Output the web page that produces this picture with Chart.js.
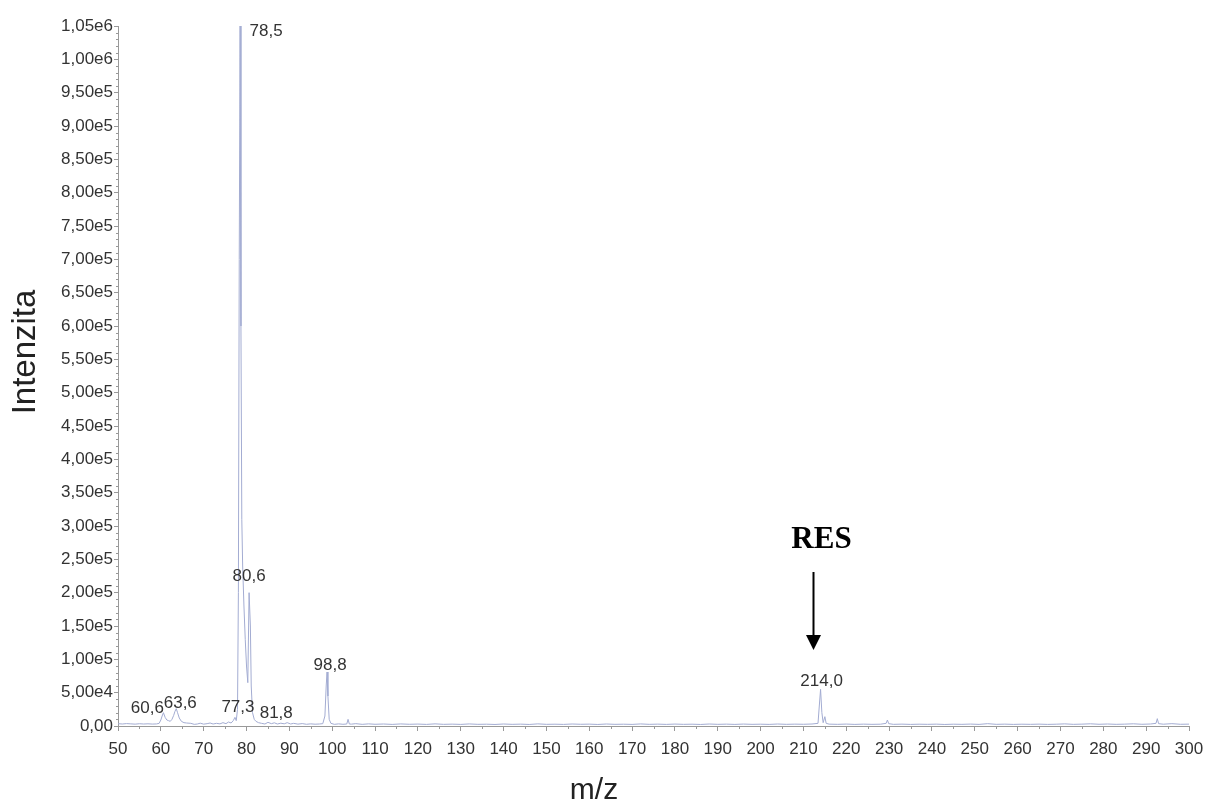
<!DOCTYPE html>
<html>
<head>
<meta charset="utf-8">
<script src="https://cdn.jsdelivr.net/npm/chart.js@4.4.0/dist/chart.umd.min.js"></script>
<style>
  html, body { margin: 0; padding: 0; background: #fff; }
</style>
</head>
<body>
<canvas id="spectrum" width="1206" height="804"></canvas>
<script>
// ---- spectrum data (m/z, intensity) ----
const mzValues = [
  50, 51, 52, 53, 54, 55, 56, 57, 58, 59, 59.6, 60.0, 60.3, 60.6, 61.0, 61.4, 61.8, 62.2, 62.6,
  63.0, 63.3, 63.6, 63.9, 64.3, 64.8, 65.4, 66.0, 67.0, 67.8, 68.5, 69.2, 70.0, 70.8, 71.5,
  72.2, 73.0, 73.8, 74.5, 75.2, 75.8, 76.4, 76.9, 77.3, 77.6, 77.9, 78.1, 78.3, 78.5, 78.7,
  78.9, 79.1, 79.4, 79.7, 80.0, 80.3, 80.6, 80.9, 81.1, 81.4, 81.8, 82.2, 82.8, 83.5, 84.3,
  85.0, 85.8, 86.5, 87.2, 88.0, 88.8, 89.5, 90.3, 91.0, 92.0, 93.0, 94.0, 95.0, 96.0, 97.0,
  97.8, 98.3, 98.6, 98.8, 99.0, 99.3, 99.7, 100.5, 101.5, 102.5, 103.4, 103.7, 104.0, 104.5,
  105.5, 107, 108.5, 110, 112, 114, 116, 118, 120, 122, 124, 126, 128, 130, 132, 134, 136,
  138, 140, 142, 144, 146, 148, 150, 152, 154, 156, 158, 160, 162, 164, 166, 168, 170, 172,
  174, 176, 178, 180, 182, 184, 186, 188, 190, 192, 194, 196, 198, 200, 202, 204, 206, 208,
  210, 212, 213.4, 213.7, 214.0, 214.3, 214.6, 215.0, 215.3, 216, 218, 220, 222, 224, 226,
  228, 229.3, 229.6, 229.9, 231, 233, 235, 237, 239, 241, 243, 245, 247, 249, 251, 253, 255,
  257, 259, 261, 263, 265, 267, 269, 271, 273, 275, 277, 279, 281, 283, 285, 287, 289, 291,
  292.3, 292.6, 292.9, 294, 296, 298, 300
];
const intensityValues = [
  3500, 3000, 3600, 3200, 2800, 3400, 3000, 3300, 2900, 3100, 4000, 9000, 15000, 20000, 13000, 9000, 8000, 7000, 10000,
  16000, 22000, 26000, 20000, 12000, 7000, 5000, 4500, 4000, 2500, 3000, 4200, 2800, 3500, 4500,
  3000, 4000, 3200, 5000, 3500, 6000, 4500, 8000, 13000, 8000, 25000, 200000, 700000, 1050000, 600000,
  310000, 240000, 180000, 130000, 90000, 65000, 200000, 150000, 60000, 20000, 10000, 7000, 5000, 4000, 3000,
  5500, 3500, 4800, 3000, 4200, 3300, 5000, 3000, 4000, 2800, 3600, 2600, 3200, 2700, 3000,
  3500, 15000, 60000, 81000, 45000, 10000, 4000, 2500, 3200, 2600, 3000, 10000, 3000, 2800,
  3500, 2500, 3200, 2600, 3000, 2400, 3100, 2600, 2900, 2400, 3200, 2500, 2800, 2400, 3100, 2500, 2700,
  2300, 3000, 2500, 2800, 2300, 3200, 2500, 2700, 2400, 3000, 2600, 2800, 2300, 3000, 2500, 2700, 2400, 3100,
  2500, 2800, 2400, 2900, 2500, 2700, 2300, 3000, 2500, 2800, 2400, 2900, 2500, 2700, 2400, 3000, 2500, 2800,
  2600, 3000, 4000, 30000, 55000, 20000, 5000, 14000, 4000, 2800, 2500, 2900, 2400, 2800, 2500,
  2700, 4000, 9000, 3500, 2500, 2800, 2400, 2700, 2500, 2800, 2300, 2700, 2500, 2900, 2400, 3500, 2500,
  2800, 2400, 2700, 2500, 2800, 2400, 2700, 3200, 2500, 2800, 3300, 2600, 3000, 2500, 2800, 3300, 2600, 3000,
  4000, 11000, 3500, 2700, 3500, 2600, 2800
];

// ---- labelled peaks ----
const peakMz = [60.6, 63.6, 77.3, 78.5, 80.6, 81.8, 98.8, 214.0];
// label shift from the peak top, in px
const peakLabelShift = [[-16, -4], [4, -5], [3, -10], [26, 5], [0, -16], [22, -6], [3, -7], [1, -8]];

// ---- axes ----
const xMin = 50, xMax = 300, xStep = 10;
const yMin = 0, yMax = 1050000, yStep = 50000;
const resMz = 212.2;

const formatIntensity = (v) => {
  if (v === 0) return "0,00";
  const exp = Math.floor(Math.log10(v) + 1e-9);
  const mant = v / Math.pow(10, exp);
  return mant.toFixed(2).replace(".", ",") + "e" + exp;
};

const points = mzValues.map((x, i) => ({ x, y: intensityValues[i] }));

const decorations = {
  id: "decorations",
  afterDraw(chart) {
    const { ctx, chartArea, scales } = chart;
    const xs = scales.x, ys = scales.y;
    ctx.save();

    // minor ticks
    ctx.strokeStyle = "#999";
    ctx.lineWidth = 1;
    ctx.beginPath();
    for (let v = xMin + 5; v < xMax; v += 10) {
      const px = Math.round(xs.getPixelForValue(v)) + 0.5;
      ctx.moveTo(px, chartArea.bottom);
      ctx.lineTo(px, chartArea.bottom + 3);
    }
    for (let v = 10000; v < yMax; v += 10000) {
      if (v % yStep === 0) continue;
      const py = Math.round(ys.getPixelForValue(v)) + 0.5;
      ctx.moveTo(chartArea.left - 2, py);
      ctx.lineTo(chartArea.left, py);
    }
    ctx.stroke();

    // peak labels
    ctx.fillStyle = "#333";
    ctx.font = "17px 'Liberation Sans', Arial, sans-serif";
    ctx.textAlign = "center";
    ctx.textBaseline = "middle";
    peakMz.forEach((mz, i) => {
      const idx = mzValues.indexOf(mz);
      const px = xs.getPixelForValue(mz);
      const py = ys.getPixelForValue(intensityValues[idx]);
      const [dx, dy] = peakLabelShift[i];
      ctx.fillText(mz.toFixed(1).replace(".", ","), px + dx, py + dy);
    });

    // axis titles
    ctx.fillStyle = "#222";
    ctx.font = "30px 'Liberation Sans', Arial, sans-serif";
    ctx.textBaseline = "alphabetic";
    ctx.fillText("m/z", 594, 799);
    ctx.save();
    ctx.translate(35, 352);
    ctx.rotate(-Math.PI / 2);
    ctx.font = "33px 'Liberation Sans', Arial, sans-serif";
    ctx.fillText("Intenzita", 0, 0);
    ctx.restore();

    // RES marker
    const ax = Math.round(xs.getPixelForValue(resMz)) + 0.5;
    ctx.fillStyle = "#000";
    ctx.font = "bold 31px 'Liberation Serif', 'Times New Roman', serif";
    ctx.textBaseline = "middle";
    ctx.fillText("RES", ax + 8, 540);
    ctx.strokeStyle = "#000";
    ctx.lineWidth = 2;
    ctx.beginPath();
    ctx.moveTo(ax, 572);
    ctx.lineTo(ax, 636);
    ctx.stroke();
    ctx.beginPath();
    ctx.moveTo(ax - 7.5, 635);
    ctx.lineTo(ax + 7.5, 635);
    ctx.lineTo(ax, 650);
    ctx.closePath();
    ctx.fill();

    ctx.restore();
  }
};

new Chart(document.getElementById("spectrum"), {
  type: "line",
  data: {
    datasets: [{
      data: points,
      borderColor: "#a3acd2",
      borderWidth: 1,
      pointRadius: 0,
      tension: 0,
      fill: false
    }]
  },
  options: {
    responsive: false,
    animation: false,
    layout: { padding: { top: 26, right: 17, left: 0, bottom: 0 } },
    plugins: { legend: { display: false }, tooltip: { enabled: false } },
    scales: {
      x: {
        type: "linear",
        min: xMin,
        max: xMax,
        afterFit: (s) => { s.height = 78; s.paddingRight = 0; s.paddingLeft = 0; },
        ticks: {
          stepSize: xStep,
          color: "#333",
          font: { family: "'Liberation Sans', Arial, sans-serif", size: 17 },
          padding: 8,
          maxRotation: 0
        },
        grid: { drawOnChartArea: false, tickLength: 5, color: "#999" },
        border: { color: "#999" }
      },
      y: {
        min: yMin,
        max: yMax,
        afterFit: (s) => { s.width = 118; },
        ticks: {
          stepSize: yStep,
          color: "#333",
          font: { family: "'Liberation Sans', Arial, sans-serif", size: 17 },
          padding: 1,
          callback: (v) => formatIntensity(v)
        },
        grid: { drawOnChartArea: false, tickLength: 4, color: "#999" },
        border: { color: "#999" }
      }
    }
  },
  plugins: [decorations]
});
</script>
</body>
</html>
